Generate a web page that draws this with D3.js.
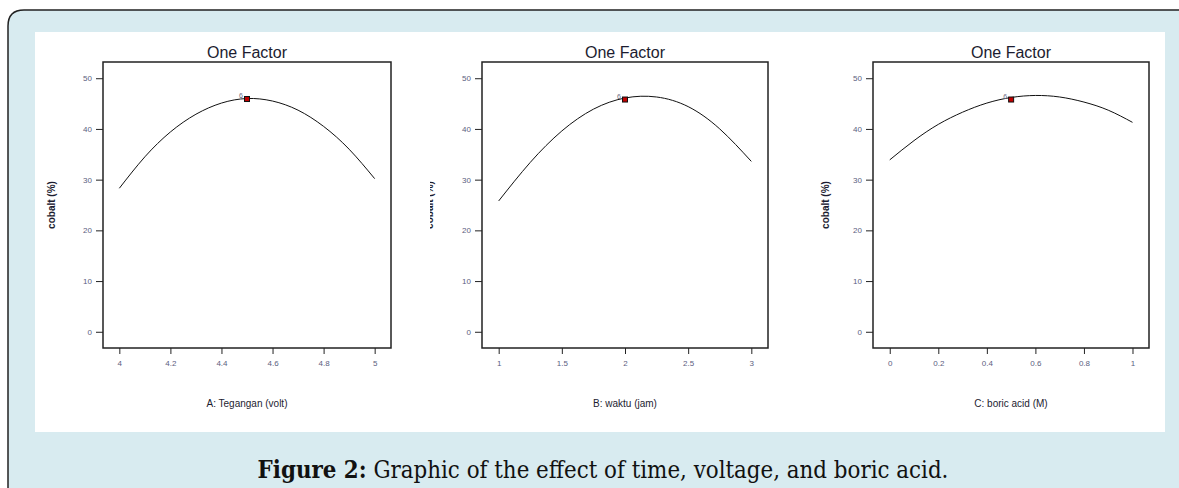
<!DOCTYPE html>
<html>
<head>
<meta charset="utf-8">
<script src="https://cdn.jsdelivr.net/npm/d3@7"></script>
<style>
  body { margin: 0; background: #fff; }
  svg { display: block; }
</style>
</head>
<body>
<script>
// readings from the three "One Factor" plots
var voltX = [4.0, 4.1, 4.2, 4.3, 4.4, 4.5, 4.6, 4.7, 4.8, 4.9, 5.0];
var voltY = [28.3, 34.5, 39.4, 42.9, 45.1, 46.0, 45.5, 43.7, 40.5, 36.0, 30.2];
var timeX = [1.0, 1.25, 1.5, 1.75, 2.0, 2.25, 2.5, 2.75, 3.0];
var timeY = [25.8, 33.4, 39.6, 43.9, 46.1, 46.3, 44.4, 40.0, 33.6];
var boricX = [0.0, 0.1, 0.2, 0.3, 0.4, 0.5, 0.6, 0.7, 0.8, 0.9, 1.0];
var boricY = [33.9, 37.7, 40.9, 43.3, 45.1, 46.2, 46.6, 46.3, 45.3, 43.7, 41.3];
var designPts = [[4.5, 45.9], [2.0, 45.8], [0.5, 45.8]];
var xTicks = [[4, 4.2, 4.4, 4.6, 4.8, 5], [1, 1.5, 2, 2.5, 3], [0, 0.2, 0.4, 0.6, 0.8, 1]];
var yTicks = [0, 10, 20, 30, 40, 50];
var xLabels = ["A: Tegangan (volt)", "B: waktu (jam)", "C: boric acid (M)"];
var yLabel = "cobalt (%)";
var title = "One Factor";

var w = 1179, h = 488;
var svg = d3.select("body").append("svg").attr("width", w).attr("height", h);

// outer box of the figure
svg.append("path")
  .attr("d", "M8,520 L8,26 Q8,10 24,10 L1190,10 L1190,520 Z")
  .attr("fill", "#d8ebf0")
  .attr("stroke", "#222")
  .attr("stroke-width", 1.5);

svg.append("rect")
  .attr("x", 35).attr("y", 32)
  .attr("width", 1130).attr("height", 400)
  .attr("fill", "#fff");

svg.append("text")
  .attr("x", 603).attr("y", 478)
  .attr("text-anchor", "middle")
  .style("font-family", "'DejaVu Serif Condensed', 'Liberation Serif', serif")
  .style("font-size", "23.8px")
  .attr("fill", "#111")
  .call(function(t) {
    t.append("tspan").style("font-weight", "bold").text("Figure 2:");
    t.append("tspan").text(" Graphic of the effect of time, voltage, and boric acid.");
  });

// middle panel's y label is cut in the source image
svg.append("clipPath").attr("id", "cut")
  .append("rect").attr("x", 430).attr("y", 0).attr("width", 400).attr("height", 488);

var panels = [
  { xs: voltX, ys: voltY, left: 103, right: 391, dom: [3.936, 5.064], ylab: 55 },
  { xs: timeX, ys: timeY, left: 482, right: 768, dom: [0.868, 3.132], ylab: 433, clip: true },
  { xs: boricX, ys: boricY, left: 873, right: 1149, dom: [-0.069, 1.068], ylab: 829 }
];
var plotTop = 62, plotBottom = 348;
var y = d3.scaleLinear().domain([-3.2, 53.2]).range([plotBottom, plotTop]);

panels.forEach(function(p, i) {
  var x = d3.scaleLinear().domain(p.dom).range([p.left, p.right]);
  var g = svg.append("g");
  var mid = (p.left + p.right) / 2;

  g.append("text")
    .attr("x", mid).attr("y", 58)
    .attr("text-anchor", "middle")
    .style("font-family", "'Liberation Sans', Arial, sans-serif")
    .style("font-size", "16px")
    .attr("fill", "#1c1c30")
    .text(title);

  // y axis
  var ya = g.append("g").attr("transform", "translate(" + p.left + ",0)")
    .call(d3.axisLeft(y).tickValues(yTicks).tickSize(7).tickPadding(4));
  ya.select(".domain").remove();
  ya.selectAll("line").attr("stroke", "#222");
  ya.selectAll("text").attr("fill", "#5b6080")
    .style("font-family", "'Liberation Sans', Arial, sans-serif").style("font-size", "8px");

  // x axis
  var xa = g.append("g").attr("transform", "translate(0," + plotBottom + ")")
    .call(d3.axisBottom(x).tickValues(xTicks[i]).tickSize(6).tickPadding(6)
      .tickFormat(function(d) { return String(d); }));
  xa.select(".domain").remove();
  xa.selectAll("line").attr("stroke", "#222");
  xa.selectAll("text").attr("fill", "#5b6080")
    .style("font-family", "'Liberation Sans', Arial, sans-serif").style("font-size", "8px");

  g.append("rect")
    .attr("x", p.left).attr("y", plotTop)
    .attr("width", p.right - p.left).attr("height", plotBottom - plotTop)
    .attr("fill", "none").attr("stroke", "#222").attr("stroke-width", 1.5);

  var line = d3.line()
    .x(function(d) { return x(d[0]); })
    .y(function(d) { return y(d[1]); })
    .curve(d3.curveNatural);
  g.append("path")
    .datum(d3.zip(p.xs, p.ys))
    .attr("d", line)
    .attr("fill", "none").attr("stroke", "#111").attr("stroke-width", 1);

  var pt = designPts[i];
  g.append("rect")
    .attr("x", x(pt[0]) - 2.5).attr("y", y(pt[1]) - 2.5)
    .attr("width", 5).attr("height", 5)
    .attr("fill", "#c00000").attr("stroke", "#111").attr("stroke-width", 1);
  g.append("text")
    .attr("x", x(pt[0]) - 4).attr("y", y(pt[1]) - 1)
    .attr("text-anchor", "end")
    .style("font-family", "'Liberation Sans', Arial, sans-serif").style("font-size", "7px")
    .attr("fill", "#6a6a80")
    .text("6");

  g.append("text")
    .attr("x", mid).attr("y", 407)
    .attr("text-anchor", "middle")
    .style("font-family", "'Liberation Sans', Arial, sans-serif").style("font-size", "10px")
    .attr("fill", "#1c1c30")
    .text(xLabels[i]);

  var holder = g.append("g");
  if (p.clip) holder.attr("clip-path", "url(#cut)");
  holder.append("text")
    .attr("transform", "translate(" + p.ylab + ",205) rotate(-90)")
    .attr("text-anchor", "middle")
    .style("font-family", "'Liberation Sans', Arial, sans-serif").style("font-size", "10px")
    .style("font-weight", "bold")
    .attr("fill", "#1c1c30")
    .text(yLabel);
});
</script>
</body>
</html>
